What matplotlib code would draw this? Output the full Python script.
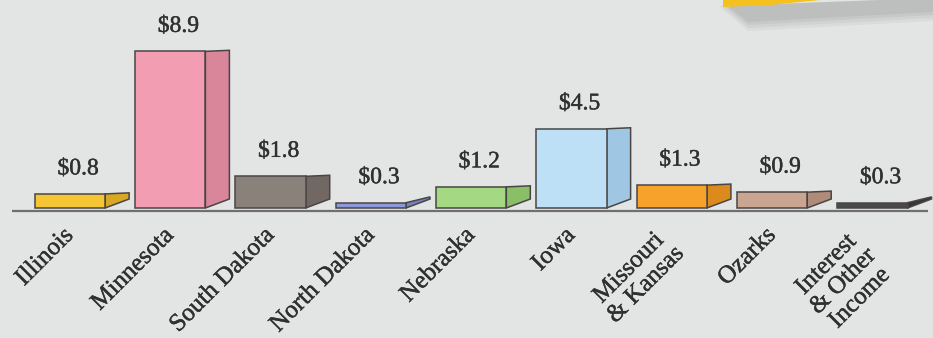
import matplotlib.pyplot as plt
import matplotlib.patheffects as pe
from matplotlib.patches import Polygon

categories = ["Illinois", "Minnesota", "South Dakota", "North Dakota", "Nebraska",
              "Iowa", "Missouri\n& Kansas", "Ozarks", "Interest\n& Other\nIncome"]
values = [0.8, 8.9, 1.8, 0.3, 1.2, 4.5, 1.3, 0.9, 0.3]
value_labels = ["$0.8", "$8.9", "$1.8", "$0.3", "$1.2", "$4.5", "$1.3", "$0.9", "$0.3"]
front_colors = ['#f6c533', '#f29db1', '#8b817b', '#8d98d8', '#a4d882',
                '#bde0f7', '#f6a22b', '#c9a592', '#4a4a4a']
side_colors = ['#d8a824', '#d9869b', '#716863', '#7480c4', '#88bf67',
               '#9fc7e3', '#dc8a1c', '#b08b78', '#363636']

BG = '#e3e5e4'
TXT = '#303030'
PX_X = 100.3   # pixels per category
PX_Y = 17.6    # pixels per $1
W = 0.70       # front face width
DEPTH = 24 / PX_X
RISE = 9 / PX_Y

fig = plt.figure(figsize=(9.33, 3.38), dpi=100)
fig.patch.set_facecolor(BG)
ax = fig.add_axes([0, 0, 1, 1])
ax.set_facecolor(BG)
ax.set_xlim(-70 / PX_X, (933 - 70) / PX_X)
ax.set_ylim(-130 / PX_Y, (338 - 130) / PX_Y)
ax.axis('off')

# decorative yellow tab + shadow in the top right corner
def fpx(pts):
    return [(x / 933, 1 - y / 338) for x, y in pts]

for k, a in enumerate([0.10, 0.12, 0.15, 0.18]):
    grow = 3 * (3 - k)
    fig.patches.append(Polygon(fpx([(728 - grow, 6), (933, -2), (933, 12 + grow), (748, 22 + grow)]),
                               closed=True, transform=fig.transFigure, facecolor='#8f9294',
                               alpha=a, edgecolor='none'))
fig.patches.append(Polygon(fpx([(723, -2), (723, 7), (770, 5), (840, -2)]), closed=True,
                           transform=fig.transFigure, facecolor='#f5c11e', edgecolor='none'))

# baseline
ax.plot([-58 / PX_X, 858 / PX_X], [-3 / PX_Y, -3 / PX_Y], color='#6f6f6f', lw=1.6,
        solid_capstyle='butt', zorder=1)

heavy = [pe.withStroke(linewidth=0.3, foreground=TXT)]

for i, (v, fc, sc) in enumerate(zip(values, front_colors, side_colors)):
    xl = i - W / 2
    xr = i + W / 2
    top_r = max(v + 0.06, RISE + 0.12)
    side = [(xr, 0), (xr + DEPTH, RISE), (xr + DEPTH, top_r), (xr, v)]
    ax.add_patch(Polygon(side, closed=True, facecolor=sc, edgecolor='#4a4545', lw=1.1, zorder=2))
    ax.add_patch(Polygon([(xl, 0), (xr, 0), (xr, v), (xl, v)], closed=True, facecolor=fc,
                         edgecolor='#4a4545', lw=1.1, zorder=3))
    ax.text(i + 0.08, v + 25 / PX_Y, value_labels[i], ha='center', va='center',
            fontsize=17, color=TXT, family='Liberation Serif', path_effects=heavy)
    nlines = categories[i].count('\n') + 1
    ax.text(i, -(24 + 10 * (nlines - 1)) / PX_Y, categories[i], rotation=45,
            rotation_mode='anchor', ha='right', va='center', multialignment='center',
            fontsize=18, color=TXT, family='Liberation Serif', linespacing=1.1,
            path_effects=heavy)

fig.savefig('out.png', dpi=100, facecolor=BG)
